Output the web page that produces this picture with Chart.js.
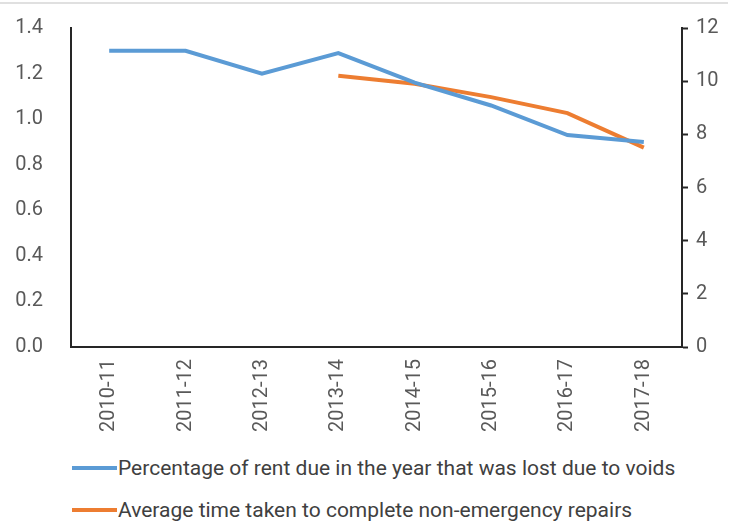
<!DOCTYPE html>
<html>
<head>
<meta charset="utf-8">
<script src="https://cdn.jsdelivr.net/npm/chart.js@4/dist/chart.umd.min.js"></script>
<style>
  html, body { margin: 0; padding: 0; background: #fff; }
  body { width: 740px; height: 523px; position: relative; overflow: hidden;
         font-family: Roboto, sans-serif; }
  .topline { position: absolute; left: 0; top: 2px; width: 728px; height: 0; border-top: 2px solid #e0e0e0; }
  .wrap { position: absolute; left: 0; top: -4px; width: 740px; height: 444px; }
  .legend { position: absolute; left: 72px; top: 447px; }
  .legend .item { display: flex; align-items: center; height: 42px; font-size: 21px; color: #404040; }
  .legend .swatch { width: 45px; height: 4px; margin-right: 1px; }
</style>
</head>
<body>
<div class="wrap"><canvas id="chart"></canvas></div>
<div class="topline"></div>
<div class="legend" id="legend"></div>
<script>
/* Percentage of rent lost to voids (left axis) vs average days to complete repairs (right axis) */
const years = ['2010-11','2011-12','2012-13','2013-14','2014-15','2015-16','2016-17','2017-18'];
const voidsPct = [1.30, 1.30, 1.20, 1.29, 1.16, 1.06, 0.93, 0.90];
const repairDays = [null, null, null, 10.2, 9.9, 9.4, 8.8, 7.5];

const seriesNames = [
  'Percentage of rent due in the year that was lost due to voids',
  'Average time taken to complete non-emergency repairs'
];
const seriesColors = ['#5b9bd5', '#ed7d31'];

const tickFont = { family: 'Roboto, sans-serif', size: 20 };
const axisColor = '#262626';
const labelColor = '#595959';

new Chart(document.getElementById('chart'), {
  type: 'line',
  data: {
    labels: years,
    datasets: [
      { label: seriesNames[0], data: voidsPct, yAxisID: 'y',
        borderColor: seriesColors[0], borderWidth: 4, pointRadius: 0, tension: 0 },
      { label: seriesNames[1], data: repairDays, yAxisID: 'y1',
        borderColor: seriesColors[1], borderWidth: 4, pointRadius: 0, tension: 0 }
    ]
  },
  options: {
    responsive: true, maintainAspectRatio: false, animation: false,
    layout: { padding: { top: 10, left: 0, right: 0, bottom: 0 } },
    plugins: { legend: { display: false }, tooltip: { enabled: false } },
    scales: {
      x: {
        offset: true,
        grid: { display: false },
        border: { display: true, color: axisColor, width: 2 },
        ticks: { color: labelColor, font: tickFont, minRotation: 90, maxRotation: 90, padding: 4 },
        afterFit: s => { s.height = 93; }
      },
      y: {
        position: 'left', min: 0, max: 1.4,
        grid: { display: false },
        border: { display: true, color: axisColor, width: 2 },
        ticks: { stepSize: 0.2, color: labelColor, font: tickFont, padding: 20,
                 callback: v => v.toFixed(1) },
        afterFit: s => { s.width = 71; }
      },
      y1: {
        position: 'right', min: 0, max: 12,
        grid: { drawOnChartArea: false, drawTicks: true, tickLength: 6, tickColor: axisColor, tickWidth: 2 },
        border: { display: true, color: axisColor, width: 2 },
        ticks: { stepSize: 2, color: labelColor, font: tickFont, padding: 8 },
        afterFit: s => { s.width = 58; }
      }
    }
  }
});

// legend: one row per series, left aligned with the plot
document.getElementById('legend').innerHTML = seriesNames.map((n, i) =>
  `<div class="item"><span class="swatch" style="background:${seriesColors[i]}"></span>${n}</div>`
).join('');
</script>
</body>
</html>
